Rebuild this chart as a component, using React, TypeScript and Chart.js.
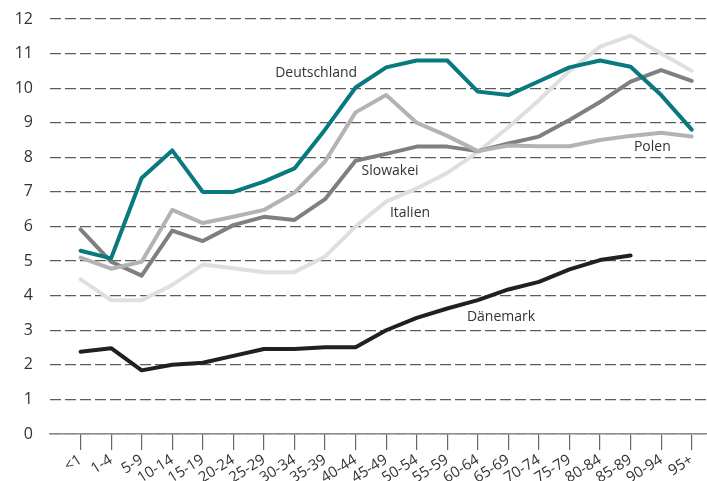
import React, { useEffect, useRef } from "react";
import { Chart, registerables } from "chart.js";

Chart.register(...registerables);

const ageGroups = ["<1", "1-4", "5-9", "10-14", "15-19", "20-24", "25-29", "30-34", "35-39", "40-44", "45-49", "50-54", "55-59", "60-64", "65-69", "70-74", "75-79", "80-84", "85-89", "90-94", "95+"];

const deutschland = [5.3, 5.08, 7.4, 8.2, 7.0, 7.0, 7.3, 7.68, 8.8, 10.02, 10.6, 10.8, 10.8, 9.9, 9.8, 10.2, 10.6, 10.8, 10.62, 9.8, 8.8];
const polen = [5.1, 4.78, 4.98, 6.48, 6.1, 6.28, 6.48, 6.98, 7.88, 9.3, 9.8, 9.0, 8.62, 8.18, 8.34, 8.32, 8.32, 8.5, 8.62, 8.71, 8.6];
const slowakei = [5.92, 4.98, 4.58, 5.88, 5.58, 6.04, 6.28, 6.19, 6.79, 7.9, 8.1, 8.31, 8.31, 8.18, 8.4, 8.6, 9.08, 9.6, 10.19, 10.52, 10.21];
const italien = [4.47, 3.87, 3.87, 4.31, 4.9, 4.79, 4.68, 4.68, 5.13, 6.0, 6.72, 7.1, 7.55, 8.15, 8.87, 9.65, 10.5, 11.2, 11.52, 11.0, 10.5];
const daenemark: (number | null)[] = [2.38, 2.48, 1.84, 2.0, 2.06, 2.26, 2.46, 2.46, 2.51, 2.51, 3.0, 3.36, 3.63, 3.87, 4.18, 4.4, 4.76, 5.03, 5.16, null, null];

const yTicks = [0, 1, 2, 3, 4, 5, 6, 7, 8, 9, 10, 11, 12];

const seriesNames = ["Deutschland", "Polen", "Slowakei", "Italien", "Dänemark"];
const seriesColors = ["#08797e", "#b3b3b6", "#7f7f82", "#dfdfe0", "#231f20"];
// label anchor positions in data space (category index, value)
const labelX = [7.71, 18.71, 10.13, 10.78, 13.76];
const labelY = [10.44, 8.29, 7.61, 6.39, 3.38];

const FONT = "'Open Sans', 'Noto Sans', sans-serif";

const toPoints = (vals: (number | null)[]) => vals.map((y, i) => ({ x: i, y }));

const labelPlugin = {
  id: "seriesLabels",
  afterDatasetsDraw(chart: any) {
    const { ctx, scales } = chart;
    ctx.save();
    ctx.font = `14px ${FONT}`;
    ctx.fillStyle = "#333333";
    ctx.textAlign = "center";
    ctx.textBaseline = "middle";
    seriesNames.forEach((name, i) => {
      ctx.fillText(name, scales.x.getPixelForValue(labelX[i]), scales.y.getPixelForValue(labelY[i]));
    });
    ctx.restore();
  },
};

export default function App() {
  const ref = useRef<HTMLCanvasElement | null>(null);
  useEffect(() => {
    if (!ref.current) return;
    const series = [deutschland, polen, slowakei, italien, daenemark];
    const chart = new Chart(ref.current, {
      type: "line",
      data: {
        datasets: series.map((vals, i) => ({
          label: seriesNames[i],
          data: toPoints(vals),
          borderColor: seriesColors[i],
          backgroundColor: seriesColors[i],
          borderWidth: 4,
          pointRadius: 0,
          tension: 0,
          borderJoinStyle: "round" as const,
          borderCapStyle: "round" as const,
          spanGaps: false,
        })),
      },
      options: {
        animation: false,
        responsive: true,
        maintainAspectRatio: false,
        layout: { padding: { top: 19, right: 0, left: 0, bottom: 0 } },
        plugins: { legend: { display: false }, tooltip: { enabled: false } },
        scales: {
          x: {
            type: "linear",
            min: -1,
            max: 20.5,
            afterBuildTicks: (scale: any) => {
              scale.ticks = ageGroups.map((_, i) => ({ value: i }));
            },
            afterFit: (scale: any) => {
              scale.height = 47;
              scale.paddingLeft = 0;
              scale.paddingRight = 0;
            },
            ticks: {
              autoSkip: false,
              minRotation: 32,
              maxRotation: 32,
              padding: 1,
              color: "#333333",
              font: { family: FONT, size: 15 },
              callback: (v: any) => ageGroups[v] ?? "",
            },
            grid: {
              drawOnChartArea: false,
              drawTicks: true,
              tickLength: 16,
              color: "#666666",
              lineWidth: 1.2,
            },
            border: { display: true, color: "#8a8a8a", width: 1.5 },
          },
          y: {
            type: "linear",
            min: 0,
            max: 12,
            afterBuildTicks: (scale: any) => {
              scale.ticks = yTicks.map((v) => ({ value: v }));
            },
            afterFit: (scale: any) => {
              scale.width = 50;
              scale.paddingTop = 0;
              scale.paddingBottom = 0;
            },
            ticks: {
              padding: 17,
              color: "#333333",
              font: { family: FONT, size: 16 },
            },
            grid: {
              drawTicks: false,
              color: "#5c5c5c",
              lineWidth: 1.3,
            },
            border: { display: false, dash: [11, 4] },
          },
        },
      },
      plugins: [labelPlugin],
    } as any);
    return () => chart.destroy();
  }, []);
  return (
    <div style={{ position: "fixed", left: 0, top: 0, width: 707, height: 481, background: "#fff" }}>
      <canvas ref={ref} />
    </div>
  );
}
